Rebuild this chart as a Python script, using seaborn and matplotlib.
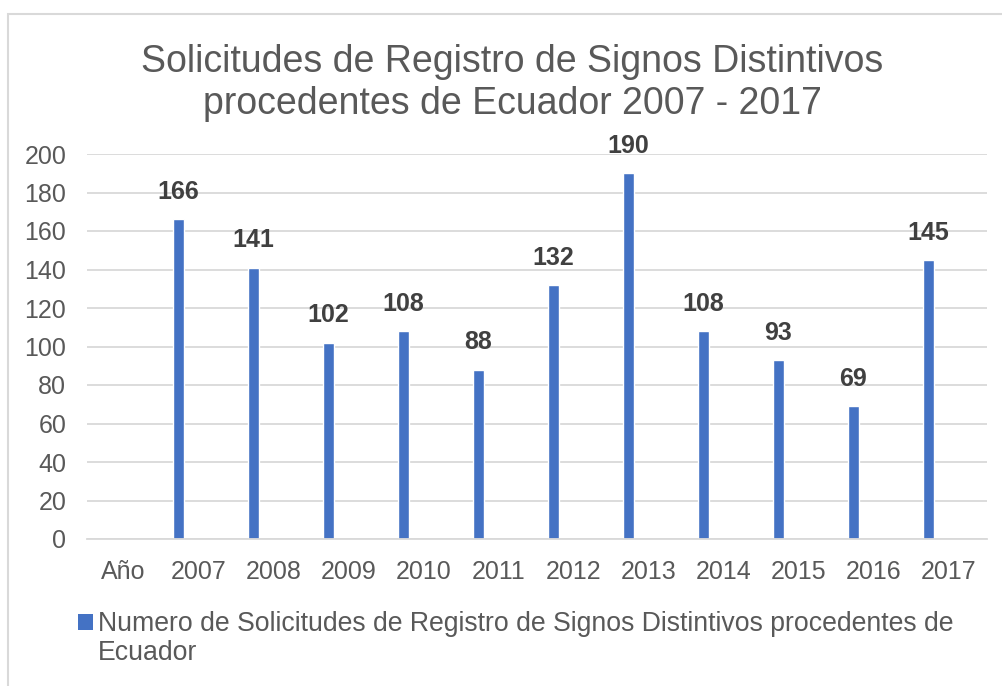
import numpy as np
import pandas as pd
import matplotlib
matplotlib.use("Agg")
import matplotlib.pyplot as plt
import seaborn as sns
from matplotlib.patches import Patch, Rectangle

categories = ["Año", "2007", "2008", "2009", "2010", "2011", "2012",
              "2013", "2014", "2015", "2016", "2017"]
values = [np.nan, 166, 141, 102, 108, 88, 132, 190, 108, 93, 69, 145]
series_name = ("Numero de Solicitudes de Registro de Signos Distintivos procedentes de\n"
               "Ecuador")
title = "Solicitudes de Registro de Signos Distintivos\nprocedentes de Ecuador 2007 - 2017"
yticks = [0, 20, 40, 60, 80, 100, 120, 140, 160, 180, 200]

sns.set_theme(style="white")
plt.rcParams["font.family"] = ["Liberation Sans", "DejaVu Sans"]

BAR = "#4472C4"
TXT = "#595959"
GRID = "#D9D9D9"

df = pd.DataFrame({"cat": categories, "val": values})

fig = plt.figure(figsize=(10.03, 6.86), dpi=100)
ax = fig.add_axes([87 / 1003, 1 - 539 / 686, 900 / 1003, 385 / 686])

sns.barplot(data=df, x="cat", y="val", order=categories, color=BAR,
            width=0.147, ax=ax, saturation=1)

# Excel-style: bars sit left of the category label centre
label_shift = 0.267
ax.set_xticks(np.arange(len(categories)) + label_shift)
ax.set_xticklabels(categories)
ax.set_xlim(-0.22, len(categories) - 0.22)

ax.set_ylim(0, 200)
ax.set_yticks(yticks)
ax.yaxis.grid(True, color=GRID, linewidth=1.3)
ax.set_axisbelow(True)
for s in ["top", "right", "left"]:
    ax.spines[s].set_visible(False)
ax.spines["bottom"].set_color(GRID)
ax.spines["bottom"].set_linewidth(1.3)
ax.tick_params(axis="both", length=0, labelsize=18, labelcolor=TXT)
ax.tick_params(axis="y", pad=15)
ax.tick_params(axis="x", pad=15)
ax.set_xlabel("")
ax.set_ylabel("")

for i, v in enumerate(values):
    if not np.isnan(v):
        ax.annotate(f"{int(v)}", xy=(i, v), xytext=(0, 11), textcoords="offset points",
                    ha="center", va="bottom", fontsize=18, fontweight="bold",
                    color="#404040")

fig.text(512 / 1003, 1 - 44 / 686, title, ha="center", va="top", fontsize=27,
         color=TXT, linespacing=1.2)

first_line, second_line = series_name.split("\n")
handle = Patch(facecolor=BAR, edgecolor="none")
leg = fig.legend([handle], [first_line], loc="upper left",
                 bbox_to_anchor=(78 / 1003, 1 - 611 / 686), frameon=False,
                 fontsize=19.2, labelcolor=TXT, handlelength=0.55, handleheight=0.55,
                 handletextpad=0.2, borderpad=0, borderaxespad=0)
fig.text(98 / 1003, 1 - 660 / 686, second_line, ha="left", va="baseline",
         fontsize=19.2, color=TXT)

fig.patches.append(Rectangle((8 / 1003, -0.05), 1.1, 1 - 14 / 686 + 0.05,
                             transform=fig.transFigure, fill=False,
                             edgecolor=GRID, linewidth=1.5))

fig.savefig("out.png", dpi=100, facecolor="white")
